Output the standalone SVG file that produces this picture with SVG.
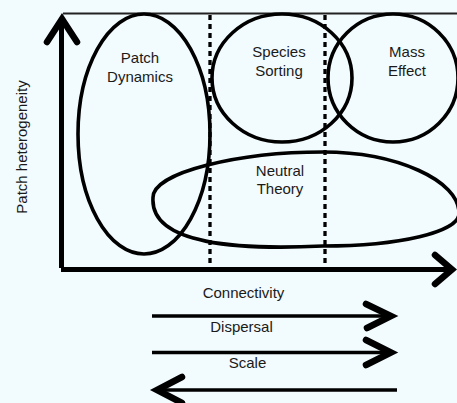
<svg xmlns="http://www.w3.org/2000/svg" width="457" height="403" viewBox="0 0 457 403">
<style>
.bg{fill:#f2fbfd}
.shape{fill:none;stroke:#000;stroke-width:3.6}
.axis{fill:none;stroke:#000;stroke-width:5}
.head{fill:none;stroke:#000;stroke-width:6.5;stroke-linecap:round;stroke-linejoin:miter}
.arr{fill:none;stroke:#000;stroke-width:3.5}
.dash{fill:none;stroke:#000;stroke-width:3.3;stroke-dasharray:5 4}
.frame{fill:none;stroke:#222;stroke-width:1.8}
text{font-family:"Liberation Sans",Arial,sans-serif;font-size:15px;fill:#1a1a1a;text-anchor:middle}
</style>
<rect class="bg" x="0" y="0" width="457" height="403"/>
<line class="frame" x1="63" y1="13.5" x2="457" y2="13.5"/>
<g id="dividers">
<line class="dash" x1="210" y1="15" x2="210" y2="268"/>
<line class="dash" x1="325" y1="15" x2="325" y2="268"/>
</g>
<g id="patch-dynamics">
<ellipse class="shape" cx="144" cy="134" rx="66" ry="120"/>
<text x="140" y="63">Patch</text>
<text x="140" y="82">Dynamics</text>
</g>
<g id="species-sorting">
<ellipse class="shape" cx="282" cy="78" rx="70" ry="64"/>
<text x="279" y="57">Species</text>
<text x="279" y="76">Sorting</text>
</g>
<g id="mass-effect">
<ellipse class="shape" cx="393" cy="78" rx="65" ry="64"/>
<text x="407" y="57">Mass</text>
<text x="407" y="76">Effect</text>
</g>
<g id="neutral-theory">
<path class="shape" d="M153,198 C152,172 240,152 323,152 C395,152 460,180 459,214 C458,232 400,246 323,246 C240,250 150,245 153,198 Z"/>
<text x="280" y="176">Neutral</text>
<text x="280" y="194">Theory</text>
</g>
<g id="axis-labels">
<text x="0" y="0" transform="translate(27,147) rotate(-90)">Patch heterogeneity</text>
<text x="243.5" y="298">Connectivity</text>
<text x="241.5" y="332">Dispersal</text>
<text x="247.5" y="368">Scale</text>
</g>
<g id="connectors">
<line class="axis" x1="61.5" y1="20" x2="61.5" y2="268"/>
<polyline class="head" points="47,42 62,19 77,42"/>
<line class="axis" x1="61" y1="269.5" x2="450" y2="269.5"/>
<polyline class="head" points="435,255 452,269.5 435,284"/>
<line class="arr" x1="152" y1="316" x2="390" y2="316"/>
<polyline class="head" points="366,304 391,316 367,328"/>
<line class="arr" x1="152" y1="352.5" x2="390" y2="352.5"/>
<polyline class="head" points="366,340 391,352.5 366,365"/>
<line class="arr" x1="158" y1="390" x2="397" y2="390"/>
<polyline class="head" points="182,377 157,390 182,403"/>
</g>
</svg>
